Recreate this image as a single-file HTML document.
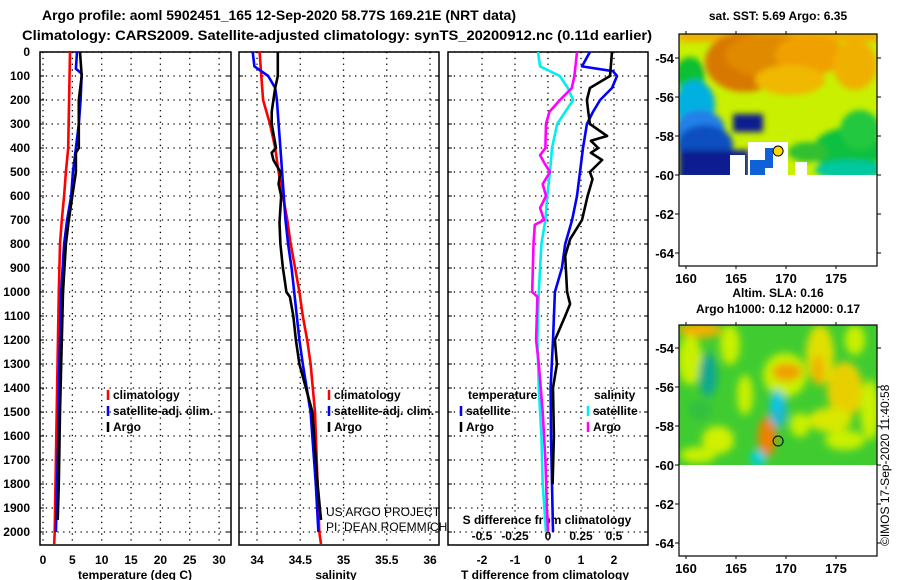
<!DOCTYPE html>
<html><head><meta charset="utf-8"><style>
html,body{margin:0;padding:0;background:#fff;}
svg{display:block;font-family:"Liberation Sans",sans-serif;}
</style></head><body>
<svg id="c" width="900" height="580" viewBox="0 0 900 580">
<text x="42" y="20" font-size="14" font-weight="bold" textLength="474" lengthAdjust="spacingAndGlyphs">Argo profile: aoml 5902451_165 12-Sep-2020 58.77S 169.21E (NRT data)</text>
<text x="22" y="40" font-size="14" font-weight="bold" textLength="630" lengthAdjust="spacingAndGlyphs">Climatology: CARS2009. Satellite-adjusted climatology: synTS_20200912.nc (0.11d earlier)</text>
<g id="plots"></g>
<g id="maps"></g>
<text transform="translate(889,546) rotate(-90)" font-size="12">©IMOS 17-Sep-2020 11:40:58</text>
</svg>
<script>
// ---- data ----
const tClimDepth=[0,400,500,600,700,800,1000,1400,1700,2000,2050];
const tClimVal=[4.6,4.3,3.9,3.6,3.2,2.9,2.7,2.4,2.2,2.0,1.9];
const tSatDepth=[0,70,90,200,300,400,500,600,700,800,1000,1200,1400,1600,2000];
const tSatVal=[5.8,5.6,6.6,6.4,6.1,5.6,5.1,4.8,4.1,3.6,3.1,2.9,2.7,2.6,2.2];
const tArgoDepth=[0,100,200,400,420,500,600,700,800,1000,1500,1800,1950];
const tArgoVal=[6.3,6.6,6.1,6.1,5.6,5.6,5.0,4.4,3.9,3.4,2.9,2.7,2.5];
const sClimDepth=[0,100,200,300,400,500,600,700,800,900,1000,1100,1200,1300,1500,2000,2050];
const sClimVal=[34.03,34.05,34.07,34.15,34.21,34.25,34.30,34.35,34.39,34.44,34.49,34.53,34.58,34.62,34.67,34.72,34.74];
const sSatDepth=[0,60,70,100,150,200,300,400,500,600,700,800,900,1000,1100,1200,1300,1500,1800,2000];
const sSatVal=[33.95,33.97,34.01,34.13,34.21,34.23,34.25,34.27,34.29,34.31,34.33,34.36,34.40,34.43,34.46,34.49,34.53,34.62,34.68,34.71];
const sArgoDepth=[0,100,150,200,250,300,400,420,450,500,550,600,710,800,900,950,1000,1020,1100,1200,1300,1500,1800,1950];
const sArgoVal=[34.24,34.24,34.21,34.19,34.17,34.17,34.22,34.17,34.19,34.27,34.25,34.28,34.26,34.27,34.30,34.32,34.34,34.38,34.42,34.45,34.49,34.64,34.70,34.74];
const dTSatDepth=[0,60,80,100,150,200,250,300,400,500,600,700,800,900,1000,1200,1400,1600,2000];
const dTSatVal=[1.27,1.03,1.97,2.09,1.94,1.58,1.36,1.18,1.06,0.97,0.88,0.73,0.52,0.42,0.21,0.15,0.08,0.09,0.15];
const dTArgoDepth=[0,100,150,200,250,300,350,370,400,420,450,500,530,600,700,780,850,1000,1050,1100,1200,1300,1400,1600,1800];
const dTArgoVal=[1.94,1.88,1.27,1.18,1.22,1.27,1.79,1.3,1.52,1.3,1.64,1.27,1.35,1.2,1.03,0.67,0.52,0.58,0.67,0.52,0.21,0.27,0.15,0.18,0.14];
const dSSatDepth=[0,60,100,150,200,300,400,500,600,700,800,900,1000,1200,1400,1600,1800,2000];
const dSSatVal=[-0.076,-0.06,0.09,0.15,0.19,0.07,0.03,0.015,-0.006,-0.02,-0.05,-0.06,-0.07,-0.08,-0.07,-0.05,-0.04,-0.015];
const dSArgoDepth=[0,100,150,200,250,300,400,430,460,500,550,600,650,700,720,800,1000,1020,1200,1300,1500,1700,1900,2000];
const dSArgoVal=[0.22,0.2,0.18,0.09,0.01,-0.015,-0.02,-0.06,-0.03,0.015,-0.04,-0.015,-0.06,-0.03,-0.1,-0.11,-0.12,-0.08,-0.09,-0.07,-0.04,-0.02,-0.008,0];
const depthTicks=[0,100,200,300,400,500,600,700,800,900,1000,1100,1200,1300,1400,1500,1600,1700,1800,1900,2000];
const tTicks=[0,5,10,15,20,25,30];
const sTicks=[34,34.5,35,35.5,36];
const dTTicks=[-2,-1,0,1,2];
const dSTicks=[-0.5,-0.25,0,0.25,0.5];
const dSTickLabels=["-0.5","-0.25","0","0.25","0.5"];
const latTicks=[-54,-56,-58,-60,-62,-64];
const lonTicks=[160,165,170,175];

// ---- helpers ----
const NS="http://www.w3.org/2000/svg";
function mk(p,tag,a){const e=document.createElementNS(NS,tag);for(const k in a)e.setAttribute(k,a[k]);p.appendChild(e);return e;}
const Y=d=>52+d*0.24;
const xT=v=>43+v*5.87, xS=v=>257+(v-34)*86.5, xDT=v=>548+v*33, xDS=v=>548+v*132;
const plots=document.getElementById('plots');
const PY0=52,PY1=545;
function panel(name,x0,x1,gridXs){
  const g=mk(plots,'g',{});
  
  
  gridXs.forEach(x=>{const l=mk(g,'line',{x1:x,x2:x,y1:PY0,y2:PY1,stroke:'#000','stroke-width':1.3,'stroke-dasharray':'1.3 4.5'});
    });
  depthTicks.forEach(d=>{const l=mk(g,'line',{x1:x0,x2:x1,y1:Y(d),y2:Y(d),stroke:'#000','stroke-width':1.3,'stroke-dasharray':'1.3 4.5'});
    
    mk(g,'line',{x1:x0,x2:x0+4,y1:Y(d),y2:Y(d),stroke:'#000'});
    mk(g,'line',{x1:x1-4,x2:x1,y1:Y(d),y2:Y(d),stroke:'#000'});});
  const r=mk(g,'rect',{x:x0,y:PY0,width:x1-x0,height:PY1-PY0,fill:'none',stroke:'#000','stroke-width':1.5});
  
  return g;
}
function line(g,name,ds,vs,fx,col){
  let p='';ds.forEach((d,i)=>{p+=(i?'L':'M')+fx(vs[i]).toFixed(1)+' '+Y(d).toFixed(1);});
  const e=mk(g,'path',{d:p,fill:'none',stroke:col,'stroke-width':2.6,'stroke-linejoin':'round'});
  
}
function txt(g,name,x,y,s,anchor,size,bold){
  const e=mk(g,'text',{x:x,y:y,'font-size':size||12,'font-weight':bold===false?'normal':'bold','text-anchor':anchor||'start'});
  e.textContent=s;return e;
}
function legend(g,x,y,col,label,name){
  const l=mk(g,'line',{x1:x,x2:x,y1:y-9,y2:y+1,stroke:col,'stroke-width':2.5});
  
  txt(g,name,x+5,y,label);
}
// panel 1
const p1=panel('temperature-panel',40,231,tTicks.map(xT));
depthTicks.forEach(d=>txt(p1,'y-tick-label',30,Y(d)+4,String(d),'end'));
tTicks.forEach(v=>txt(p1,'x-tick-label',xT(v),564,String(v),'middle'));
txt(p1,'x-axis-title',135,579,'temperature (deg C)','middle');
line(p1,'temp-climatology-line',tClimDepth,tClimVal,xT,'#f00');
line(p1,'temp-satellite-line',tSatDepth,tSatVal,xT,'#00f');
line(p1,'temp-argo-line',tArgoDepth,tArgoVal,xT,'#000');
legend(p1,108,399,'#f00','climatology','legend-climatology');
legend(p1,108,415,'#00f','satellite-adj. clim.','legend-satellite');
legend(p1,108,431,'#000','Argo','legend-argo');
// panel 2
const p2=panel('salinity-panel',239,439,sTicks.map(xS));
sTicks.forEach(v=>txt(p2,'x-tick-label',xS(v),564,String(v),'middle'));
txt(p2,'x-axis-title',336,579,'salinity','middle');
line(p2,'sal-climatology-line',sClimDepth,sClimVal,xS,'#f00');
line(p2,'sal-satellite-line',sSatDepth,sSatVal,xS,'#00f');
line(p2,'sal-argo-line',sArgoDepth,sArgoVal,xS,'#000');
legend(p2,329,399,'#f00','climatology','legend-climatology');
legend(p2,329,415,'#00f','satellite-adj. clim.','legend-satellite');
legend(p2,329,431,'#000','Argo','legend-argo');
txt(p2,'credit-project',326,516,'US ARGO PROJECT','start',12,false);
txt(p2,'credit-pi',326,531,'PI: DEAN ROEMMICH','start',12,false);
// panel 3
const p3=panel('difference-panel',448,648,dTTicks.map(xDT));
dTTicks.forEach(v=>txt(p3,'x-tick-label',xDT(v),564,String(v),'middle'));
txt(p3,'x-axis-title',545,579,'T difference from climatology','middle');
txt(p3,'s-axis-title',547,524,'S difference from climatology','middle');
dSTicks.forEach((v,i)=>txt(p3,'s-tick-label',xDS(v),540,dSTickLabels[i],'middle'));
line(p3,'dT-satellite-line',dTSatDepth,dTSatVal,xDT,'#00f');
line(p3,'dT-argo-line',dTArgoDepth,dTArgoVal,xDT,'#000');
line(p3,'dS-satellite-line',dSSatDepth,dSSatVal,xDS,'#0ee');
line(p3,'dS-argo-line',dSArgoDepth,dSArgoVal,xDS,'#f0f');
txt(p3,'legend-temperature-heading',468,399,'temperature');
legend(p3,461,415,'#00f','satellite','legend-t-satellite');
legend(p3,461,431,'#000','Argo','legend-t-argo');
txt(p3,'legend-salinity-heading',594,399,'salinity');
legend(p3,588,415,'#0ee','satellite','legend-s-satellite');
legend(p3,588,431,'#f0f','Argo','legend-s-argo');

// ---- maps ----
const maps=document.getElementById('maps');
const MX0=679,MX1=877;
const lonX=l=>686+(l-160)*10;
function mapFrame(name,top,bot,lat54){
  const g=mk(maps,'g',{});
  
  const latY=l=>lat54+(-54-l)*19.5;
  return {g,latY,top,bot};
}
function axes(m){
  const g=m.g;
  mk(g,'rect',{x:MX0,y:m.top,width:MX1-MX0,height:m.bot-m.top,fill:'none',stroke:'#000','stroke-width':1.2});
  latTicks.forEach(l=>{const y=m.latY(l);
    mk(g,'line',{x1:MX0,x2:MX0-4,y1:y,y2:y,stroke:'#000'});mk(g,'line',{x1:MX1,x2:MX1+4,y1:y,y2:y,stroke:'#000'});
    txt(g,'lat-tick-label',MX0-5,y+5,String(l),'end',13);});
  lonTicks.forEach(l=>{const x=lonX(l);
    mk(g,'line',{x1:x,x2:x,y1:m.top,y2:m.top-3,stroke:'#000'});mk(g,'line',{x1:x,x2:x,y1:m.bot,y2:m.bot+3,stroke:'#000'});
    txt(g,'lon-tick-label',x,m.bot+17,String(l),'middle',13);});
}
function blob(g,cx,cy,rx,ry,col){mk(g,'ellipse',{cx,cy,rx,ry,fill:col});}
const defs=mk(document.getElementById('c'),'defs',{});
const cp=mk(defs,'clipPath',{id:'cl1'});
const cp2=mk(defs,'clipPath',{id:'cl2'});mk(cp2,'rect',{x:MX0,y:325,width:MX1-MX0,height:465-325});
const fl=mk(defs,'filter',{id:'bl'});mk(fl,'feGaussianBlur',{stdDeviation:4});
const fl2=mk(defs,'filter',{id:'bl2'});mk(fl2,'feGaussianBlur',{stdDeviation:3});
// map 1 SST
const m1=mapFrame('sst-map',34,266,58);
txt(m1.g,'sst-map-title',778,20,'sat. SST: 5.69 Argo: 6.35','middle');
const y60a=m1.latY(-60);
mk(cp,'rect',{x:MX0,y:34,width:MX1-MX0,height:y60a-34});
mk(m1.g,'rect',{x:MX0,y:34,width:MX1-MX0,height:y60a-34,fill:'#c8f000'});
const c1o=mk(m1.g,'g',{'clip-path':'url(#cl1)'});
const c1=mk(c1o,'g',{filter:'url(#bl2)'});
mk(c1,'rect',{x:MX0,y:30,width:200,height:12,fill:'#f0b000'});
blob(c1,745,62,40,30,'#d87800');blob(c1,770,55,45,22,'#e08a00');blob(c1,810,55,35,20,'#f0a000');
blob(c1,790,80,35,15,'#f0b800');blob(c1,855,65,22,25,'#f0b000');
blob(c1,690,75,15,18,'#10c030');blob(c1,695,105,20,25,'#00b0e0');
blob(c1,700,130,25,20,'#2080e8');blob(c1,705,145,28,20,'#1050c0');
mk(c1,'rect',{x:MX0,y:150,width:70,height:30,fill:'#0a1a90'});
blob(c1,848,150,35,22,'#10c040');blob(c1,860,130,20,20,'#20c840');blob(c1,850,170,35,10,'#00c8a0');
mk(c1,'rect',{x:733,y:114,width:30,height:18,fill:'#0a1a90'});
blob(c1,808,152,20,10,'#30c030');
mk(c1o,'rect',{x:748,y:142,width:40,height:33,fill:'#fff'});
mk(c1o,'rect',{x:795,y:162,width:12,height:13,fill:'#fff'});
mk(c1o,'rect',{x:730,y:155,width:15,height:20,fill:'#fff'});
mk(c1o,'rect',{x:750,y:160,width:15,height:15,fill:'#1060d8'});
mk(c1o,'rect',{x:765,y:148,width:8,height:20,fill:'#1060d8'});
mk(m1.g,'rect',{x:MX0,y:y60a,width:MX1-MX0,height:266-y60a,fill:'#fff'});
axes(m1);
mk(m1.g,'circle',{cx:lonX(169.21),cy:m1.latY(-58.77),r:5,fill:'#f8d800',stroke:'#000','stroke-width':1});
// map 2 SLA
const m2=mapFrame('sla-map',325,556,348);
txt(m2.g,'sla-map-title-1',778,297,'Altim. SLA: 0.16','middle');
txt(m2.g,'sla-map-title-2',778,313,'Argo h1000: 0.12 h2000: 0.17','middle');
const c2=mk(m2.g,'g',{'clip-path':'url(#cl2)'});
mk(c2,'rect',{x:MX0,y:325,width:MX1-MX0,height:140,fill:'#40cc30'});
const b2=mk(c2,'g',{filter:'url(#bl)'});
blob(b2,700,330,22,8,'#f0b000');blob(b2,690,360,12,25,'#c8f000');blob(b2,730,345,10,20,'#c8f000');
blob(b2,745,395,8,20,'#c8f000');blob(b2,785,375,22,22,'#c8f000');blob(b2,787,372,15,9,'#f0a000');
blob(b2,820,355,14,30,'#e0e000');blob(b2,818,370,6,15,'#f0b000');blob(b2,845,390,18,28,'#e8d000');
blob(b2,855,340,10,15,'#c8f000');blob(b2,870,410,10,30,'#c8f000');blob(b2,767,437,9,20,'#f08000');
blob(b2,718,440,16,14,'#d0f000');blob(b2,698,455,18,8,'#c8f000');
blob(b2,708,375,9,22,'#10a890');blob(b2,778,410,9,18,'#20b8d0');blob(b2,777,400,6,10,'#00c8e8');
blob(b2,758,458,8,8,'#00d0e0');blob(b2,830,420,22,12,'#d8e800');blob(b2,800,425,10,12,'#c8f000');
blob(b2,845,440,20,10,'#c8f000');blob(b2,700,410,12,10,'#30c040');
mk(m2.g,'rect',{x:MX0,y:465,width:MX1-MX0,height:556-465,fill:'#fff'});
axes(m2);
mk(m2.g,'circle',{cx:lonX(169.21),cy:m2.latY(-58.77),r:5,fill:'none',stroke:'#000','stroke-width':1});
</script>
</body></html>
